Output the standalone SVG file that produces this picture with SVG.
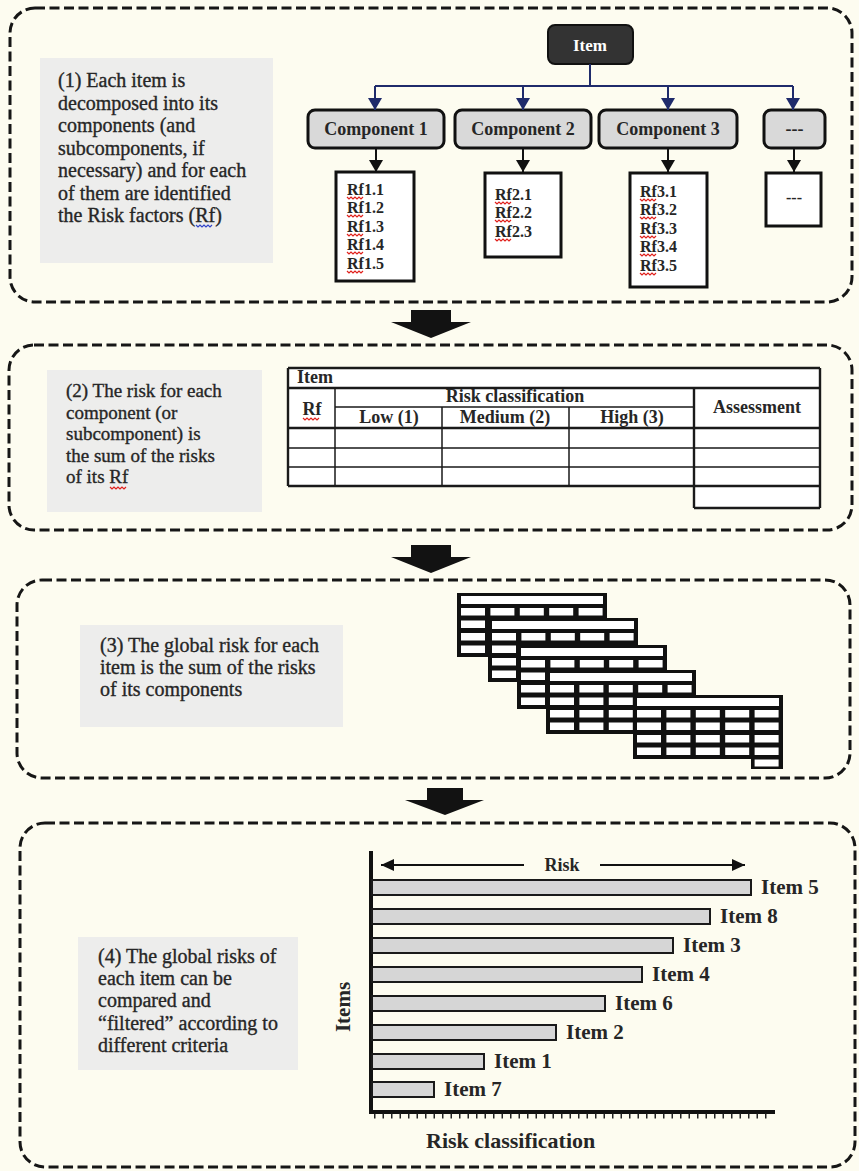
<svg xmlns="http://www.w3.org/2000/svg" xmlns:xlink="http://www.w3.org/1999/xlink" width="859" height="1171" viewBox="0 0 859 1171">
  <defs>
    <style>
      .frame{fill:#fdfcf0;stroke:#161616;stroke-width:3;stroke-dasharray:10 4.5}
      .note{fill:#ededec}
      .txt{font-family:"Liberation Serif","Times New Roman",serif;fill:#262626}
      .desc{font-size:20px;stroke:#262626;stroke-width:0.35}
      .desc2{font-size:19px;stroke:#262626;stroke-width:0.35}
      .comp{fill:#d9d9d9;stroke:#111;stroke-width:3}
      .compT{font-size:18px;font-weight:bold;text-anchor:middle}
      .rfbox{fill:#fff;stroke:#111;stroke-width:3}
      .rf{font-size:16px;font-weight:bold}
      .blue{stroke:#1f2b6b;stroke-width:2;fill:none}
      .blk{stroke:#111;stroke-width:2;fill:none}
      .tl{stroke:#1a1a1a;stroke-width:1.5;fill:none}
      .tk{stroke:#1a1a1a;stroke-width:2.4;fill:none}
      .th{font-size:18px;font-weight:bold;text-anchor:middle}
      .bar{fill:#d6d6d6;stroke:#1a1a1a;stroke-width:2}
      .lbl{font-size:21px;font-weight:bold}
      .sq{fill:none;stroke:#e0201b;stroke-width:1.2}
      .sqb{fill:none;stroke:#3345c8;stroke-width:1.2}
      .cell{fill:#fff}
      .big{fill:#121212}
    </style>
    <marker id="arrBlue" markerUnits="userSpaceOnUse" markerWidth="14" markerHeight="14" refX="12" refY="7" orient="auto">
      <path d="M0,0 L12,7 L0,14 z" fill="#1f2b6b"/>
    </marker>
    <marker id="arrBlack" markerUnits="userSpaceOnUse" markerWidth="14" markerHeight="14" refX="12" refY="7" orient="auto">
      <path d="M0,0 L12,7 L0,14 z" fill="#111"/>
    </marker>
    <marker id="arrSmall" markerUnits="userSpaceOnUse" markerWidth="14" markerHeight="12" refX="13" refY="6" orient="auto-start-reverse">
      <path d="M0,0 L13,6 L0,12 z" fill="#111"/>
    </marker>
    <path id="squig" d="M0,0 l2,2 l2,-2 l2,2 l2,-2 l2,2 l2,-2 l2,2 l2,-2"/>
    <!-- small spreadsheet used in the stacked component tables -->
    <g id="minitable">
      <rect x="0" y="0" width="150" height="64" fill="#111"/>
      <rect class="cell" x="4" y="3" width="142" height="8"/>
      <g id="minirow">
        <rect class="cell" x="4" y="15" width="24" height="7.5"/>
        <rect class="cell" x="33.4" y="15" width="24" height="7.5"/>
        <rect class="cell" x="62.8" y="15" width="24" height="7.5"/>
        <rect class="cell" x="92.2" y="15" width="24" height="7.5"/>
        <rect class="cell" x="121.6" y="15" width="24" height="7.5"/>
      </g>
      <use xlink:href="#minirow" y="12.5"/>
      <use xlink:href="#minirow" y="25"/>
      <use xlink:href="#minirow" y="37.5"/>
    </g>
  </defs>

  <rect x="0" y="0" width="859" height="1171" fill="#fdfcf0"/>

  <!-- stage frames -->
  <g id="frames">
    <rect class="frame" x="10" y="8" width="842" height="294" rx="25"/>
    <rect class="frame" x="9" y="345" width="843" height="185" rx="25"/>
    <rect class="frame" x="17" y="580" width="833" height="198" rx="25"/>
    <rect class="frame" x="20" y="823" width="835" height="344" rx="25"/>
  </g>

  <!-- block arrows between stages -->
  <g id="stage-arrows">
    <polygon class="big" points="411,310 451,310 451,322 471,322 431,338 391,322 411,322"/>
    <polygon class="big" points="411,545 451,545 451,557 471,557 431,573 391,557 411,557"/>
    <polygon class="big" points="427,788 463,788 463,800 484,800 445,815 405,800 427,800"/>
  </g>

  <!-- stage 1: decomposition -->
  <g id="note1">
    <rect class="note" x="40" y="58" width="233" height="205"/>
    <text class="txt desc" x="58" y="87">(1) Each item is</text>
    <text class="txt desc" x="58" y="110">decomposed into its</text>
    <text class="txt desc" x="58" y="132">components (and</text>
    <text class="txt desc" x="58" y="155">subcomponents, if</text>
    <text class="txt desc" x="58" y="177">necessary) and for each</text>
    <text class="txt desc" x="58" y="200">of them are identified</text>
    <text class="txt desc" x="58" y="222">the Risk factors (Rf)</text>
    <use xlink:href="#squig" class="sqb" x="196" y="225"/>
  </g>

  <g id="item">
    <rect x="548" y="25" width="85" height="39" rx="7" fill="#333" stroke="#111" stroke-width="2"/>
    <text class="txt compT" x="590" y="51" style="fill:#fff;font-size:17px">Item</text>
  </g>

  <g id="component1">
    <rect class="comp" x="308" y="110" width="136" height="38" rx="7"/>
    <text class="txt compT" x="376" y="135">Component 1</text>
  </g>
  <g id="component2">
    <rect class="comp" x="455" y="110" width="136" height="38" rx="7"/>
    <text class="txt compT" x="523" y="135">Component 2</text>
  </g>
  <g id="component3">
    <rect class="comp" x="599" y="110" width="138" height="38" rx="7"/>
    <text class="txt compT" x="668" y="135">Component 3</text>
  </g>
  <g id="component-more">
    <rect class="comp" x="764" y="110" width="61" height="38" rx="7"/>
    <text class="txt compT" x="794.5" y="135">---</text>
  </g>

  <g id="rf1">
    <rect class="rfbox" x="336" y="172" width="78" height="109"/>
    <text class="txt rf" x="347" y="195">Rf1.1</text>
    <text class="txt rf" x="347" y="213">Rf1.2</text>
    <text class="txt rf" x="347" y="232">Rf1.3</text>
    <text class="txt rf" x="347" y="250">Rf1.4</text>
    <text class="txt rf" x="347" y="269">Rf1.5</text>
    <use xlink:href="#squig" class="sq" x="347" y="197"/>
    <use xlink:href="#squig" class="sq" x="347" y="215"/>
    <use xlink:href="#squig" class="sq" x="347" y="234"/>
    <use xlink:href="#squig" class="sq" x="347" y="252"/>
    <use xlink:href="#squig" class="sq" x="347" y="271"/>
  </g>
  <g id="rf2">
    <rect class="rfbox" x="485" y="173" width="76" height="84"/>
    <text class="txt rf" x="495" y="200">Rf2.1</text>
    <text class="txt rf" x="495" y="218">Rf2.2</text>
    <text class="txt rf" x="495" y="237">Rf2.3</text>
    <use xlink:href="#squig" class="sq" x="495" y="202"/>
    <use xlink:href="#squig" class="sq" x="495" y="220"/>
    <use xlink:href="#squig" class="sq" x="495" y="239"/>
  </g>
  <g id="rf3">
    <rect class="rfbox" x="630" y="173" width="77" height="114"/>
    <text class="txt rf" x="640" y="197">Rf3.1</text>
    <text class="txt rf" x="640" y="215">Rf3.2</text>
    <text class="txt rf" x="640" y="234">Rf3.3</text>
    <text class="txt rf" x="640" y="252">Rf3.4</text>
    <text class="txt rf" x="640" y="271">Rf3.5</text>
    <use xlink:href="#squig" class="sq" x="640" y="199"/>
    <use xlink:href="#squig" class="sq" x="640" y="217"/>
    <use xlink:href="#squig" class="sq" x="640" y="236"/>
    <use xlink:href="#squig" class="sq" x="640" y="254"/>
    <use xlink:href="#squig" class="sq" x="640" y="273"/>
  </g>
  <g id="rf-more">
    <rect class="rfbox" x="766" y="173" width="55" height="53"/>
    <text class="txt rf" x="794" y="203" text-anchor="middle">---</text>
  </g>

  <g id="connectors">
    <path class="blue" d="M590,64 V86 M375,86 H793"/>
    <line class="blue" x1="375" y1="86" x2="375" y2="110" marker-end="url(#arrBlue)"/>
    <line class="blue" x1="523" y1="86" x2="523" y2="110" marker-end="url(#arrBlue)"/>
    <line class="blue" x1="668" y1="86" x2="668" y2="110" marker-end="url(#arrBlue)"/>
    <line class="blue" x1="793" y1="86" x2="793" y2="110" marker-end="url(#arrBlue)"/>
    <line class="blk" x1="376" y1="148" x2="376" y2="172" marker-end="url(#arrBlack)"/>
    <line class="blk" x1="523" y1="148" x2="523" y2="172" marker-end="url(#arrBlack)"/>
    <line class="blk" x1="668" y1="148" x2="668" y2="172" marker-end="url(#arrBlack)"/>
    <line class="blk" x1="794" y1="148" x2="794" y2="172" marker-end="url(#arrBlack)"/>
  </g>

  <!-- stage 2: risk table -->
  <g id="note2">
    <rect class="note" x="47" y="370" width="215" height="142"/>
    <text class="txt desc2" x="66" y="397">(2) The risk for each</text>
    <text class="txt desc2" x="66" y="419">component (or</text>
    <text class="txt desc2" x="66" y="440">subcomponent) is</text>
    <text class="txt desc2" x="66" y="462">the sum of the risks</text>
    <text class="txt desc2" x="66" y="483">of its Rf</text>
    <use xlink:href="#squig" class="sq" x="110" y="487"/>
  </g>

  <g id="risk-table">
    <rect x="288" y="368" width="532" height="118" fill="#fff"/>
    <rect x="694" y="486" width="126" height="22" fill="#fff"/>
    <path class="tk" d="M288,368 H820 M288,388 H820 M288,428 H820 M288,486 H820 M694,508 H820"/>
    <path class="tk" d="M288,368 V486 M820,368 V508 M694,388 V508"/>
    <path class="tl" d="M335,407 H694 M288,448 H820 M288,467 H820"/>
    <path class="tl" d="M335,388 V486 M442,407 V486 M569,407 V486"/>
    <text class="txt th" x="297" y="383" style="text-anchor:start">Item</text>
    <text class="txt th" x="312" y="415">Rf</text>
    <use xlink:href="#squig" class="sq" x="303" y="418"/>
    <text class="txt th" x="515" y="402">Risk classification</text>
    <text class="txt th" x="389" y="423">Low (1)</text>
    <text class="txt th" x="505" y="423">Medium (2)</text>
    <text class="txt th" x="632" y="423">High (3)</text>
    <text class="txt th" x="757" y="413">Assessment</text>
  </g>

  <!-- stage 3: item totals -->
  <g id="note3">
    <rect class="note" x="80" y="625" width="263" height="102"/>
    <text class="txt desc" x="100" y="652">(3) The global risk for each</text>
    <text class="txt desc" x="100" y="674">item is the sum of the risks</text>
    <text class="txt desc" x="100" y="696">of its components</text>
  </g>

  <g id="component-tables">
    <use xlink:href="#minitable" x="457" y="593"/>
    <use xlink:href="#minitable" x="488" y="618"/>
    <use xlink:href="#minitable" x="517" y="645"/>
    <use xlink:href="#minitable" x="546" y="670"/>
    <use xlink:href="#minitable" x="633" y="695"/>
    <rect x="751" y="755" width="32" height="14" fill="#111"/>
    <rect class="cell" x="754.6" y="759.5" width="24" height="7"/>
  </g>

  <!-- stage 4: ranking chart -->
  <g id="note4">
    <rect class="note" x="78" y="937" width="220" height="133"/>
    <text class="txt desc" x="98" y="963">(4) The global risks of</text>
    <text class="txt desc" x="98" y="985">each item can be</text>
    <text class="txt desc" x="98" y="1007">compared and</text>
    <text class="txt desc" x="98" y="1030">“filtered” according to</text>
    <text class="txt desc" x="98" y="1052">different criteria</text>
  </g>

  <g id="ranking-chart">
    <line x1="371" y1="851" x2="371" y2="1114" stroke="#111" stroke-width="4"/>
    <line x1="369" y1="1112" x2="775" y2="1112" stroke="#111" stroke-width="4"/>
    <line x1="374" y1="1116" x2="773" y2="1116" stroke="#222" stroke-width="5" stroke-dasharray="1.5 7"/>
    <line x1="381" y1="865" x2="524" y2="865" stroke="#111" stroke-width="2" marker-start="url(#arrSmall)"/>
    <line x1="600" y1="865" x2="745" y2="865" stroke="#111" stroke-width="2" marker-end="url(#arrSmall)"/>
    <text class="txt" x="562" y="871" text-anchor="middle" style="font-size:18px;font-weight:bold">Risk</text>

    <rect class="bar" x="372" y="880" width="379" height="15"/>
    <rect class="bar" x="372" y="909" width="338" height="15"/>
    <rect class="bar" x="372" y="938" width="301" height="15"/>
    <rect class="bar" x="372" y="967" width="270" height="15"/>
    <rect class="bar" x="372" y="996" width="233" height="15"/>
    <rect class="bar" x="372" y="1025" width="184" height="15"/>
    <rect class="bar" x="372" y="1054" width="112" height="15"/>
    <rect class="bar" x="372" y="1082" width="62" height="15"/>

    <text class="txt lbl" x="761" y="894">Item 5</text>
    <text class="txt lbl" x="720" y="923">Item 8</text>
    <text class="txt lbl" x="683" y="952">Item 3</text>
    <text class="txt lbl" x="652" y="981">Item 4</text>
    <text class="txt lbl" x="615" y="1010">Item 6</text>
    <text class="txt lbl" x="566" y="1039">Item 2</text>
    <text class="txt lbl" x="494" y="1068">Item 1</text>
    <text class="txt lbl" x="444" y="1096">Item 7</text>

    <text class="txt" transform="translate(350,1007) rotate(-90)" text-anchor="middle" style="font-size:21px;font-weight:bold">Items</text>
    <text class="txt" x="426" y="1148" style="font-size:22px;font-weight:bold">Risk classification</text>
  </g>
</svg>
